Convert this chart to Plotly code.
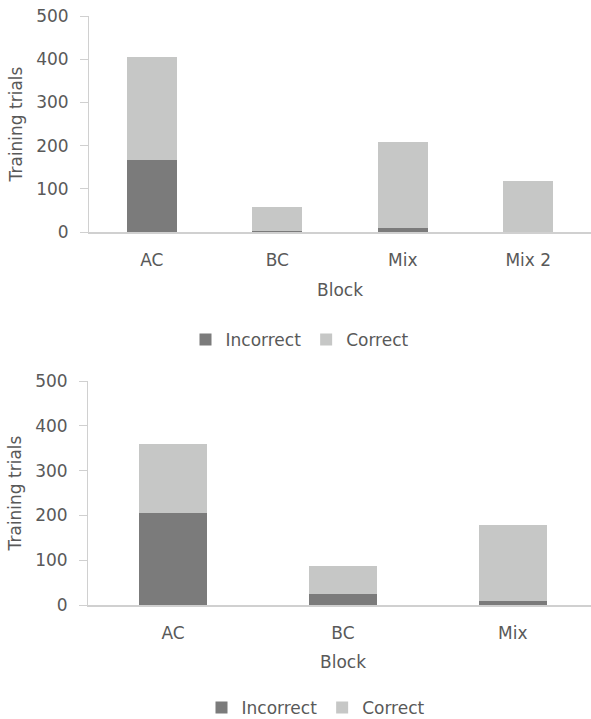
import plotly.graph_objects as go

# Block labels for each experiment
blocks_exp1 = ["AC", "BC", "Mix", "Mix 2"]
blocks_exp2 = ["AC", "BC", "Mix"]

# Training trials split by response outcome
incorrect_exp1 = [166, 2, 9, 0]
correct_exp1 = [239, 56, 199, 118]

incorrect_exp2 = [206, 25, 8]
correct_exp2 = [153, 63, 171]

y_ticks = [0, 100, 200, 300, 400, 500]

DARK = "#7b7b7b"
LIGHT = "#c6c7c6"
TEXT = "#595959"
AXIS = "#d0d0d0"
FONT = "DejaVu Sans"
FS = 17

W, H = 591, 719


def py(px):
    """Convert a pixel row (from top) to paper coordinates."""
    return 1 - px / H


fig = go.Figure()

fig.add_trace(go.Bar(x=blocks_exp1, y=incorrect_exp1, name="Incorrect",
                     marker=dict(color=DARK, line=dict(width=0)),
                     xaxis="x", yaxis="y", legend="legend"))
fig.add_trace(go.Bar(x=blocks_exp1, y=correct_exp1, name="Correct",
                     marker=dict(color=LIGHT, line=dict(width=0)),
                     xaxis="x", yaxis="y", legend="legend"))
fig.add_trace(go.Bar(x=blocks_exp2, y=incorrect_exp2, name="Incorrect",
                     marker=dict(color=DARK, line=dict(width=0)),
                     xaxis="x2", yaxis="y2", legend="legend2"))
fig.add_trace(go.Bar(x=blocks_exp2, y=correct_exp2, name="Correct",
                     marker=dict(color=LIGHT, line=dict(width=0)),
                     xaxis="x2", yaxis="y2", legend="legend2"))

xcommon = dict(showline=True, linecolor=AXIS, linewidth=1.5, ticks="",
               showgrid=False, zeroline=False, type="category",
               ticklabelstandoff=12,
               tickfont=dict(family=FONT, size=FS, color=TEXT))
ycommon = dict(showline=True, linecolor=AXIS, linewidth=1, ticks="outside",
               ticklen=8, tickcolor=AXIS, showgrid=False, zeroline=False,
               range=[0, 500], tickvals=y_ticks, ticklabelstandoff=8,
               tickfont=dict(family=FONT, size=FS, color=TEXT),
               title=dict(text="Training trials", standoff=9,
                          font=dict(family=FONT, size=FS, color=TEXT)))

legend_common = dict(orientation="h", xanchor="center", yanchor="middle",
                     font=dict(family=FONT, size=FS, color=TEXT),
                     traceorder="normal", itemwidth=30, bgcolor="rgba(0,0,0,0)")

fig.update_layout(
    width=W, height=H,
    margin=dict(l=0, r=0, t=0, b=0, autoexpand=False),
    paper_bgcolor="white", plot_bgcolor="white",
    barmode="stack", bargap=0.6,
    showlegend=True,
    xaxis=dict(xcommon, domain=[89 / W, 1], anchor="y", range=[-0.5, 3.5]),
    yaxis=dict(ycommon, domain=[py(232), py(16)], anchor="x"),
    xaxis2=dict(xcommon, domain=[88 / W, 1], anchor="y2", range=[-0.5, 2.46]),
    yaxis2=dict(ycommon, domain=[py(605), py(381)], anchor="x2"),
    legend=dict(legend_common, x=300 / W, y=py(340)),
    legend2=dict(legend_common, x=316 / W, y=py(708)),
    annotations=[
        dict(text="Block", x=340 / W, y=py(290), xref="paper", yref="paper",
             xanchor="center", yanchor="middle", showarrow=False,
             font=dict(family=FONT, size=FS, color=TEXT)),
        dict(text="Block", x=343 / W, y=py(662), xref="paper", yref="paper",
             xanchor="center", yanchor="middle", showarrow=False,
             font=dict(family=FONT, size=FS, color=TEXT)),
    ],
)

fig.write_html("out.html")
